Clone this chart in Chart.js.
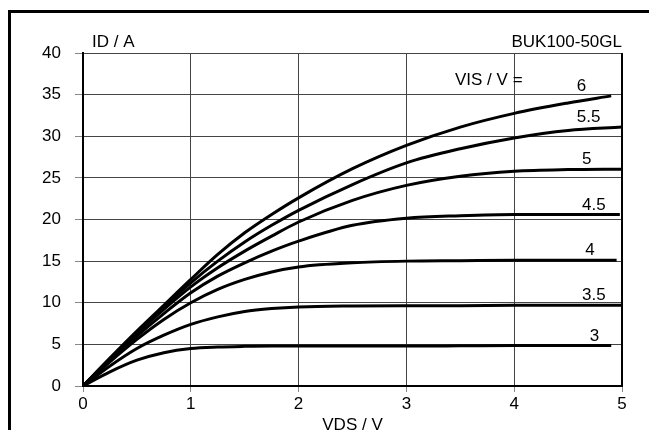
<!DOCTYPE html>
<html><head><meta charset="utf-8">
<script src="https://cdn.jsdelivr.net/npm/chart.js@4/dist/chart.umd.min.js"></script>
<style>
html,body{margin:0;padding:0;background:#fff;overflow:hidden;}
#wrap{position:relative;width:649px;height:430px;}
#frame{position:absolute;left:8px;top:10px;width:700px;height:500px;border:3px solid #000;box-sizing:border-box;pointer-events:none;}
canvas{position:absolute;left:0;top:0;}
</style></head>
<body><div id="wrap"><div id="frame"></div><canvas id="c" width="649" height="430"></canvas></div>
<script>
// VDS sample points (V)
const vds = [0, 0.25, 0.5, 0.75, 1, 1.25, 1.5, 1.75, 2, 2.5, 3, 3.5, 4, 4.5];
// last VDS point of each curve
const vdsEnd = [4.9, 5.0, 4.95, 4.98, 5.0, 5.0, 4.9];
// gate-source voltages (series names)
const vis = ['3', '3.5', '4', '4.5', '5', '5.5', '6'];
// drain current ID (A) per curve, at vds[] then at vdsEnd
const id3  = [0, 1.7, 3.1, 4.0, 4.5, 4.68, 4.76, 4.8, 4.8, 4.8, 4.8, 4.82, 4.85, 4.85, 4.85];
const id35 = [0, 2.4, 4.5, 6.1, 7.4, 8.3, 8.95, 9.3, 9.5, 9.62, 9.65, 9.65, 9.7, 9.7, 9.7];
const id4  = [0, 2.9, 5.6, 8.0, 10.0, 11.6, 12.8, 13.7, 14.3, 14.8, 15.0, 15.05, 15.1, 15.1, 15.1];
const id45 = [0, 3.1, 6.0, 8.7, 11.2, 13.2, 14.8, 16.2, 17.4, 19.3, 20.15, 20.45, 20.6, 20.6, 20.6];
const id5  = [0, 3.2, 6.3, 9.2, 11.9, 14.2, 16.2, 18.0, 19.7, 22.3, 24.1, 25.2, 25.8, 26.0, 26.05];
const id55 = [0, 3.3, 6.5, 9.5, 12.4, 15.0, 17.3, 19.3, 21.1, 24.2, 26.8, 28.5, 29.8, 30.7, 31.1];
const id6  = [0, 3.35, 6.6, 9.7, 12.8, 15.8, 18.4, 20.6, 22.6, 26.1, 28.9, 31.1, 32.75, 34.0, 34.85];
const curves = [id3, id35, id4, id45, id5, id55, id6];
// curve label left positions (VDS units)
const labelX = [4.70, 4.63, 4.66, 4.63, 4.63, 4.58, 4.58];
const xTicks = [0, 1, 2, 3, 4, 5];
const yTicks = [0, 5, 10, 15, 20, 25, 30, 35, 40];

const FONT = '"Liberation Sans", Arial, sans-serif';
const FS = 17;

const datasets = curves.map((ys, i) => ({
  label: vis[i],
  data: ys.map((y, j) => ({x: j < vds.length ? vds[j] : vdsEnd[i], y: y})),
  borderColor: '#000',
  borderWidth: 3,
  pointRadius: 0,
  fill: false,
  cubicInterpolationMode: 'monotone',
  showLine: true
}));

const textPlugin = {
  id: 'texts',
  afterDatasetsDraw(chart) {
    const {ctx, chartArea: a, scales: {x, y}} = chart;
    ctx.save();
    ctx.strokeStyle = '#000';
    ctx.lineWidth = 2;
    ctx.beginPath();
    ctx.moveTo(a.right, a.top); ctx.lineTo(a.right, a.bottom);
    ctx.stroke();
    ctx.fillStyle = '#000';
    ctx.font = FS + 'px ' + FONT;
    ctx.textBaseline = 'alphabetic';
    ctx.textAlign = 'left';
    ctx.fillText('ID / A', a.left + 9, a.top - 6);
    ctx.textAlign = 'right';
    ctx.fillText('BUK100-50GL', a.right, a.top - 6);
    ctx.textAlign = 'left';
    ctx.fillText('VIS / V =', 455, y.getPixelForValue(36.2));
    ctx.textAlign = 'center';
    ctx.fillText('VDS / V', (a.left + a.right) / 2, 430);
    ctx.textAlign = 'left';
    curves.forEach((ys, i) => {
      const last = ys[ys.length - 1];
      ctx.fillText(vis[i], x.getPixelForValue(labelX[i]), y.getPixelForValue(last) - 5);
    });
    ctx.restore();
  }
};

new Chart(document.getElementById('c'), {
  type: 'scatter',
  data: {datasets},
  options: {
    responsive: false,
    animation: false,
    devicePixelRatio: 1,
    layout: {padding: {top: 53, right: 27, left: 0, bottom: 0}},
    plugins: {legend: {display: false}, tooltip: {enabled: false}},
    scales: {
      x: {
        type: 'linear', min: 0, max: 5,
        afterBuildTicks(s) { s.ticks = xTicks.map(v => ({value: v})); },
        afterFit(s) { s.height = 44; },
        grid: {color: '#444', lineWidth: 1, tickLength: 6, tickColor: '#888'},
        border: {color: '#000', width: 2},
        ticks: {color: '#000', font: {family: FONT, size: FS}, padding: 2, maxRotation: 0}
      },
      y: {
        type: 'linear', min: 0, max: 40,
        afterBuildTicks(s) { s.ticks = yTicks.map(v => ({value: v})); },
        afterFit(s) { s.width = 83; },
        grid: {color: '#444', lineWidth: 1, tickLength: 8, tickColor: '#888'},
        border: {color: '#000', width: 2},
        ticks: {color: '#000', font: {family: FONT, size: FS}, padding: 14}
      }
    }
  },
  plugins: [textPlugin]
});
</script></body></html>
